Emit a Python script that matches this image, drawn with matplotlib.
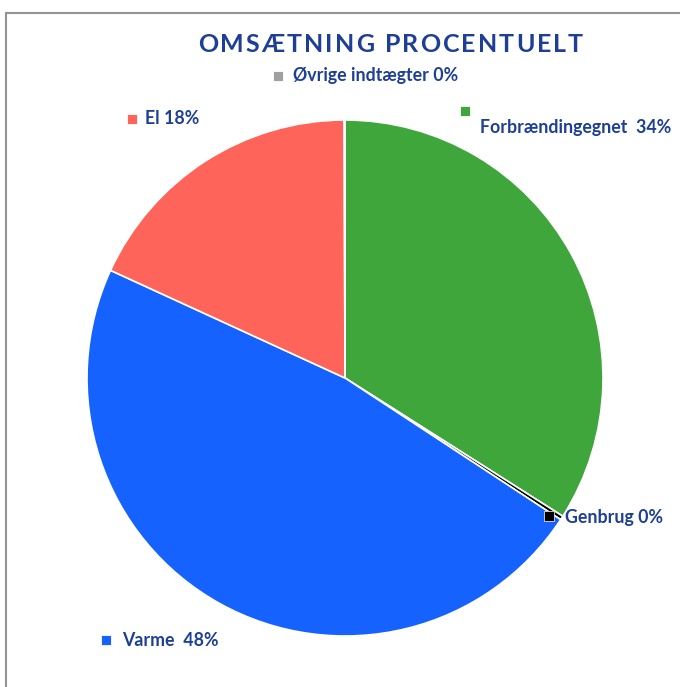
import matplotlib
matplotlib.use("Agg")
import matplotlib.pyplot as plt
from matplotlib.patches import Rectangle

# slices in clockwise order starting at 12 o'clock
labels = ["Forbrændingegnet  34%", "Genbrug 0%", "Varme  48%", "El 18%", "Øvrige indtægter 0%"]
values = [34.0, 0.25, 47.6, 18.1, 0.05]
colors = ["#3FA63B", "#000000", "#1662FF", "#FF645A", "#A0A0A0"]

title = "OMSÆTNING PROCENTUELT"
text_color = "#1E3F96"

W, H = 680, 687
fig = plt.figure(figsize=(W / 100, H / 100), dpi=100)
ax = fig.add_axes([0, 0, 1, 1])


# pixel helpers (y measured from top)
def py(y):
    return H - y


ax.pie(values, colors=colors, startangle=90, counterclock=False,
       center=(345, py(378)), radius=258, frame=True,
       wedgeprops=dict(edgecolor="white", linewidth=1.2))
ax.set_xlim(0, W)
ax.set_ylim(0, H)
ax.axis("off")

# outer frame (cropped on right and bottom)
fig.patches.append(Rectangle((6 / W, -0.1), 2, (H - 13) / H + 0.1,
                             transform=fig.transFigure, fill=False,
                             edgecolor="#939393", linewidth=1.5))

# title with letter spacing, fitted to the reference width
fig.canvas.draw()
renderer = fig.canvas.get_renderer()
font = dict(family=["Lato", "DejaVu Sans"], weight="bold", color=text_color)
size = 18
widths = []
for ch in title:
    t = ax.text(0, 0, "n" if ch == " " else ch, fontsize=size, **font)
    w = t.get_window_extent(renderer).width
    widths.append(w * 0.45 if ch == " " else w)
    t.remove()
left, right = 198, 583
spacing = (right - left - sum(widths)) / (len(title) - 1)
x = left
for ch, w in zip(title, widths):
    if ch != " ":
        ax.text(x, py(45), ch, fontsize=size, ha="left", va="center", **font)
    x += w + spacing

# data labels with coloured square keys
key_pos = [(465, 111), (549, 516), (106, 640), (132, 119), (278, 76)]
text_pos = [(480, 128), (565, 517), (122, 641), (145, 119), (293, 76)]
for lab, col, (kx, ky), (tx, ty) in zip(labels, colors, key_pos, text_pos):
    ax.scatter([kx], [py(ky)], marker="s", s=52, color=col,
               edgecolors="white" if col != "#000000" else "#DDDDDD",
               linewidths=0.6, zorder=5)
    ax.text(tx, py(ty), lab, fontsize=12.8, ha="left", va="center", **font)

fig.savefig("out.png", dpi=100)
